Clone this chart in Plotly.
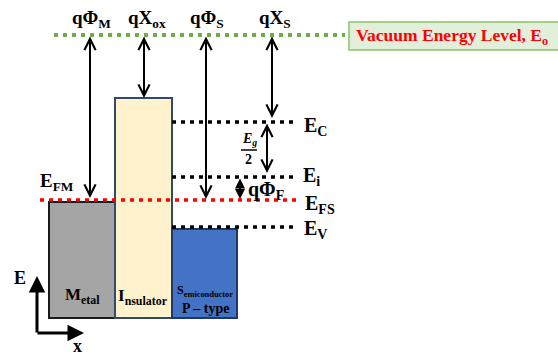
import plotly.graph_objects as go

# ---- energy levels of the MOS band diagram (diagram units, measured downward) ----
level_names = ["vacuum", "E_FM", "E_C", "E_i", "E_FS", "E_V"]
level_values = [35, 200, 122, 177, 201, 227]
lv = dict(zip(level_names, level_values))

# ---- material blocks: metal, insulator, semiconductor ----
block_names = ["Metal", "Insulator", "Semiconductor"]
block_left = [49, 115, 172]
block_right = [115, 172, 237]
block_top = [202, 98, 229]
block_bottom = [318, 318, 318]
block_fill = ["#A5A5A5", "#FFF2CC", "#4472C4"]
block_edge = ["#1a1a1a", "#2E4A70", "#1F3864"]

# ---- level lines: (from x, to x, level, colour) ----
line_levels = ["vacuum", "E_FM", "E_C", "E_i", "E_V"]
line_x0 = [54, 40, 172, 172, 172]
line_x1 = [345, 296, 296, 296, 296]
line_color = ["#70AD47", "#FF0000", "#000000", "#000000", "#000000"]

# ---- arrows between levels: x, upper level, lower level ----
arrow_x = [90, 144, 206, 272, 267, 240]
arrow_top = [lv["vacuum"], lv["vacuum"], lv["vacuum"], lv["vacuum"], lv["E_C"], lv["E_i"]]
arrow_bottom = [lv["E_FM"] - 2, 98, lv["E_FS"] - 2, lv["E_C"] - 4, lv["E_i"] - 4, lv["E_FS"] - 2]

fig = go.Figure()

SERIF = "Liberation Serif"

# blocks
for i in range(len(block_names)):
    fig.add_shape(type="rect", x0=block_left[i], x1=block_right[i],
                  y0=block_top[i], y1=block_bottom[i],
                  fillcolor=block_fill[i], line=dict(color=block_edge[i], width=2),
                  layer="below")

# level lines (square dotted)
for name, x0, x1, col in zip(line_levels, line_x0, line_x1, line_color):
    w = 4 if name == "vacuum" else 3.5
    fig.add_trace(go.Scatter(x=[x0, x1], y=[lv[name], lv[name]], mode="lines",
                             line=dict(color=col, width=w, dash="4px,5px"),
                             hoverinfo="skip", showlegend=False))

# vacuum level label box
fig.add_shape(type="rect", x0=349, x1=562, y0=22, y1=50,
              fillcolor="#E2EFDA", line=dict(color="#8CC26A", width=1.5))
fig.add_annotation(x=452, y=36, text="<b>Vacuum Energy Level, E<sub>o</sub></b>",
                   showarrow=False, font=dict(family=SERIF, size=17.5, color="#FF0000"))

# arrows
for i, (x, yt, yb) in enumerate(zip(arrow_x, arrow_top, arrow_bottom)):
    small = i == 5
    fig.add_annotation(x=x, y=yb, ax=x, ay=yt, xref="x", yref="y", axref="x", ayref="y",
                       text="", showarrow=True, arrowside="end+start",
                       arrowhead=2 if small else 5, startarrowhead=2 if small else 5,
                       arrowsize=1.0 if small else 1.1, startarrowsize=1.0 if small else 1.1,
                       arrowwidth=2, arrowcolor="#000000", standoff=0, startstandoff=0)

# labels
labels = [
    (91, 19, "<b>qΦ<sub>M</sub></b>", 19),
    (147, 19, "<b>qX<sub>ox</sub></b>", 19),
    (207, 19, "<b>qΦ<sub>S</sub></b>", 19),
    (275, 19, "<b>qX<sub>S</sub></b>", 19),
    (315, 126, "<b>E<sub>C</sub></b>", 20),
    (311, 176, "<b>E<sub>i</sub></b>", 20),
    (320, 204, "<b>E<sub>FS</sub></b>", 20),
    (315, 229, "<b>E<sub>V</sub></b>", 20),
    (57, 182, "<b>E<sub>FM</sub></b>", 19),
    (266, 190, "<b>qΦ<sub>F</sub></b>", 20),
    (82, 296, "<b>M<sub>etal</sub></b>", 17),
    (143, 297, "<b>I<sub>nsulator</sub></b>", 17),
    (205, 291, "<b>S<sub>emiconductor</sub></b>", 12),
    (205, 308, "<b>P – type</b>", 14),
    (20, 278, "<b>E</b>", 18),
    (77, 346, "<b>x</b>", 18),
]
for x, y, t, s in labels:
    fig.add_annotation(x=x, y=y, text=t, showarrow=False,
                       font=dict(family=SERIF, size=s, color="#000000"))

# Eg/2 fraction
fig.add_annotation(x=249, y=139, text="<b><i>E<sub>g</sub></i></b>", showarrow=False,
                   font=dict(family=SERIF, size=14, color="#000000"))
fig.add_shape(type="line", x0=241, x1=257, y0=150, y1=150, line=dict(color="#000", width=1.5))
fig.add_annotation(x=248, y=159, text="<b>2</b>", showarrow=False,
                   font=dict(family=SERIF, size=14, color="#000000"))

# coordinate axes (E up, x right)
fig.add_annotation(x=37, y=276, ax=37, ay=334, xref="x", yref="y", axref="x", ayref="y",
                   text="", showarrow=True, arrowhead=2, arrowsize=1.1, arrowwidth=3,
                   arrowcolor="#000", standoff=0)
fig.add_annotation(x=84, y=333, ax=36, ay=333, xref="x", yref="y", axref="x", ayref="y",
                   text="", showarrow=True, arrowhead=2, arrowsize=1.1, arrowwidth=3,
                   arrowcolor="#000", standoff=0)

fig.update_layout(
    width=558, height=355, margin=dict(l=0, r=0, t=0, b=0),
    paper_bgcolor="white", plot_bgcolor="white",
    xaxis=dict(range=[0, 558], visible=False, fixedrange=True),
    yaxis=dict(range=[355, 0], visible=False, fixedrange=True),
    showlegend=False,
)

fig.write_html("out.html")
